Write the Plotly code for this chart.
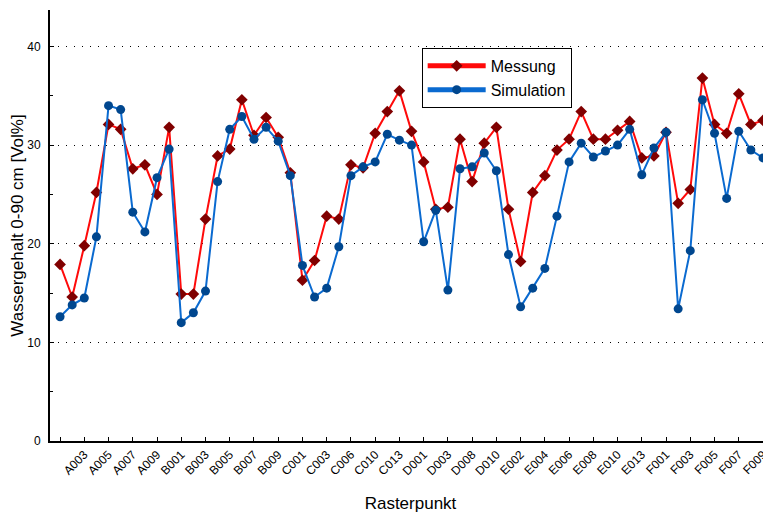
import plotly.graph_objects as go

# Measurement points (every second one is labelled on the axis)
points = ["A001", "A002", "A003", "A004", "A005", "A006", "A007", "A008", "A009", "A010",
          "B001", "B002", "B003", "B004", "B005", "B006", "B007", "B008", "B009", "B010",
          "C001", "C002", "C003", "C004", "C006", "C008", "C010", "C011", "C013", "C014",
          "D001", "D002", "D003", "D005", "D008", "D009", "D010", "D011",
          "E002", "E003", "E004", "E005", "E006", "E007", "E008", "E009", "E010", "E011", "E013", "E014",
          "F001", "F002", "F003", "F004", "F005", "F006", "F007", "F008", "F009", "F010"]

tick_vals = ["A001", "A003", "A005", "A007", "A009", "B001", "B003", "B005", "B007", "B009",
             "C001", "C003", "C006", "C010", "C013", "D001", "D003", "D008", "D010",
             "E002", "E004", "E006", "E008", "E010", "E013", "F001", "F003", "F005", "F007", "F009"]
tick_text = [""] + tick_vals[1:]

messung = [17.9, 14.6, 19.8, 25.2, 32.1, 31.6, 27.6, 28.0, 25.0, 31.8, 14.9, 14.9,
           22.5, 28.9, 29.6, 34.6, 31.0, 32.8, 30.8, 27.2, 16.3, 18.3, 22.8, 22.5,
           28.0, 27.7, 31.2, 33.4, 35.5, 31.4, 28.3, 23.5, 23.7, 30.6, 26.3,
           30.2, 31.8, 23.5, 18.2, 25.2, 26.9, 29.5, 30.6, 33.4, 30.6, 30.6, 31.5,
           32.4, 28.7, 28.9, 31.3, 24.1, 25.5, 36.8, 32.1, 31.2, 35.2, 32.1, 32.5, 31.0]

simulation = [12.6, 13.8, 14.5, 20.7, 34.0, 33.6, 23.2, 21.2, 26.7, 29.6, 12.0, 13.0,
              15.2, 26.3, 31.6, 32.9, 30.6, 31.8, 30.4, 26.9, 17.8, 14.6, 15.5, 19.7,
              26.9, 27.8, 28.3, 31.1, 30.5, 30.0, 20.2, 23.4, 15.3, 27.6, 27.8,
              29.2, 27.4, 18.9, 13.6, 15.5, 17.5, 22.8, 28.3, 30.2, 28.8, 29.4, 30.0,
              31.6, 27.0, 29.7, 31.3, 13.4, 19.3, 34.6, 31.2, 24.6, 31.4, 29.5, 28.7, 29.1]

RED_LINE, RED_MARK = "#FF0A0A", "#800000"
BLUE_LINE, BLUE_MARK = "#0A6AD0", "#00478F"
FONT = "Liberation Sans, Arial, sans-serif"

fig = go.Figure()

fig.add_trace(go.Scatter(x=points, y=messung, mode="lines+markers", name="Messung",
                         showlegend=False,
                         line=dict(color=RED_LINE, width=2),
                         marker=dict(symbol="diamond", size=9, color=RED_MARK)))
fig.add_trace(go.Scatter(x=points, y=simulation, mode="lines+markers", name="Simulation",
                         showlegend=False,
                         line=dict(color=BLUE_LINE, width=2),
                         marker=dict(symbol="circle", size=9, color=BLUE_MARK)))

# legend entries (thicker line like the original legend)
fig.add_trace(go.Scatter(x=[None], y=[None], mode="lines+markers", name="Messung",
                         line=dict(color=RED_LINE, width=5),
                         marker=dict(symbol="diamond", size=9, color=RED_MARK)))
fig.add_trace(go.Scatter(x=[None], y=[None], mode="lines+markers", name="Simulation",
                         line=dict(color=BLUE_LINE, width=5),
                         marker=dict(symbol="circle", size=9, color=BLUE_MARK)))

# the page adds an 8px body margin, so the figure is laid out 8px up/left
fig.update_layout(
    width=771, height=516, autosize=False,
    margin=dict(l=42, r=8, t=2, b=83),
    paper_bgcolor="white", plot_bgcolor="white",
    font=dict(family=FONT, color="black"),
    legend=dict(x=0.5155, y=0.912, xanchor="left", yanchor="top",
                bgcolor="white", bordercolor="black", borderwidth=1,
                font=dict(size=16, family=FONT, color="black"),
                tracegroupgap=1, itemwidth=58),
)

fig.update_xaxes(
    type="category", categoryorder="array", categoryarray=points,
    range=[-0.83, 58.66], automargin=False,
    tickmode="array", tickvals=tick_vals, ticktext=tick_text,
    tickangle=-45, tickfont=dict(size=12, family=FONT, color="black"),
    ticks="inside", ticklen=4, tickcolor="black", tickwidth=1,
    showline=True, linecolor="black", linewidth=2,
    showgrid=False, zeroline=False,
    title=dict(text="Rasterpunkt", font=dict(size=17, family=FONT, color="black"), standoff=20),
)

fig.update_yaxes(
    range=[0, 43.7], automargin=False,
    tickmode="array", tickvals=[0, 10, 20, 30, 40],
    tickfont=dict(size=12, family=FONT, color="black"),
    ticks="inside", ticklen=4, tickcolor="black", ticklabelstandoff=5,
    minor=dict(ticks="inside", ticklen=3, tickvals=[5, 15, 25, 35], tickcolor="black", showgrid=False),
    showline=True, linecolor="black", linewidth=2,
    showgrid=True, gridcolor="black", gridwidth=1, griddash="1px,7px",
    zeroline=False,
    title=dict(text="Wassergehalt 0-90 cm [Vol%]", font=dict(size=17, family=FONT, color="black"), standoff=0),
)

fig.write_html("out.html")
